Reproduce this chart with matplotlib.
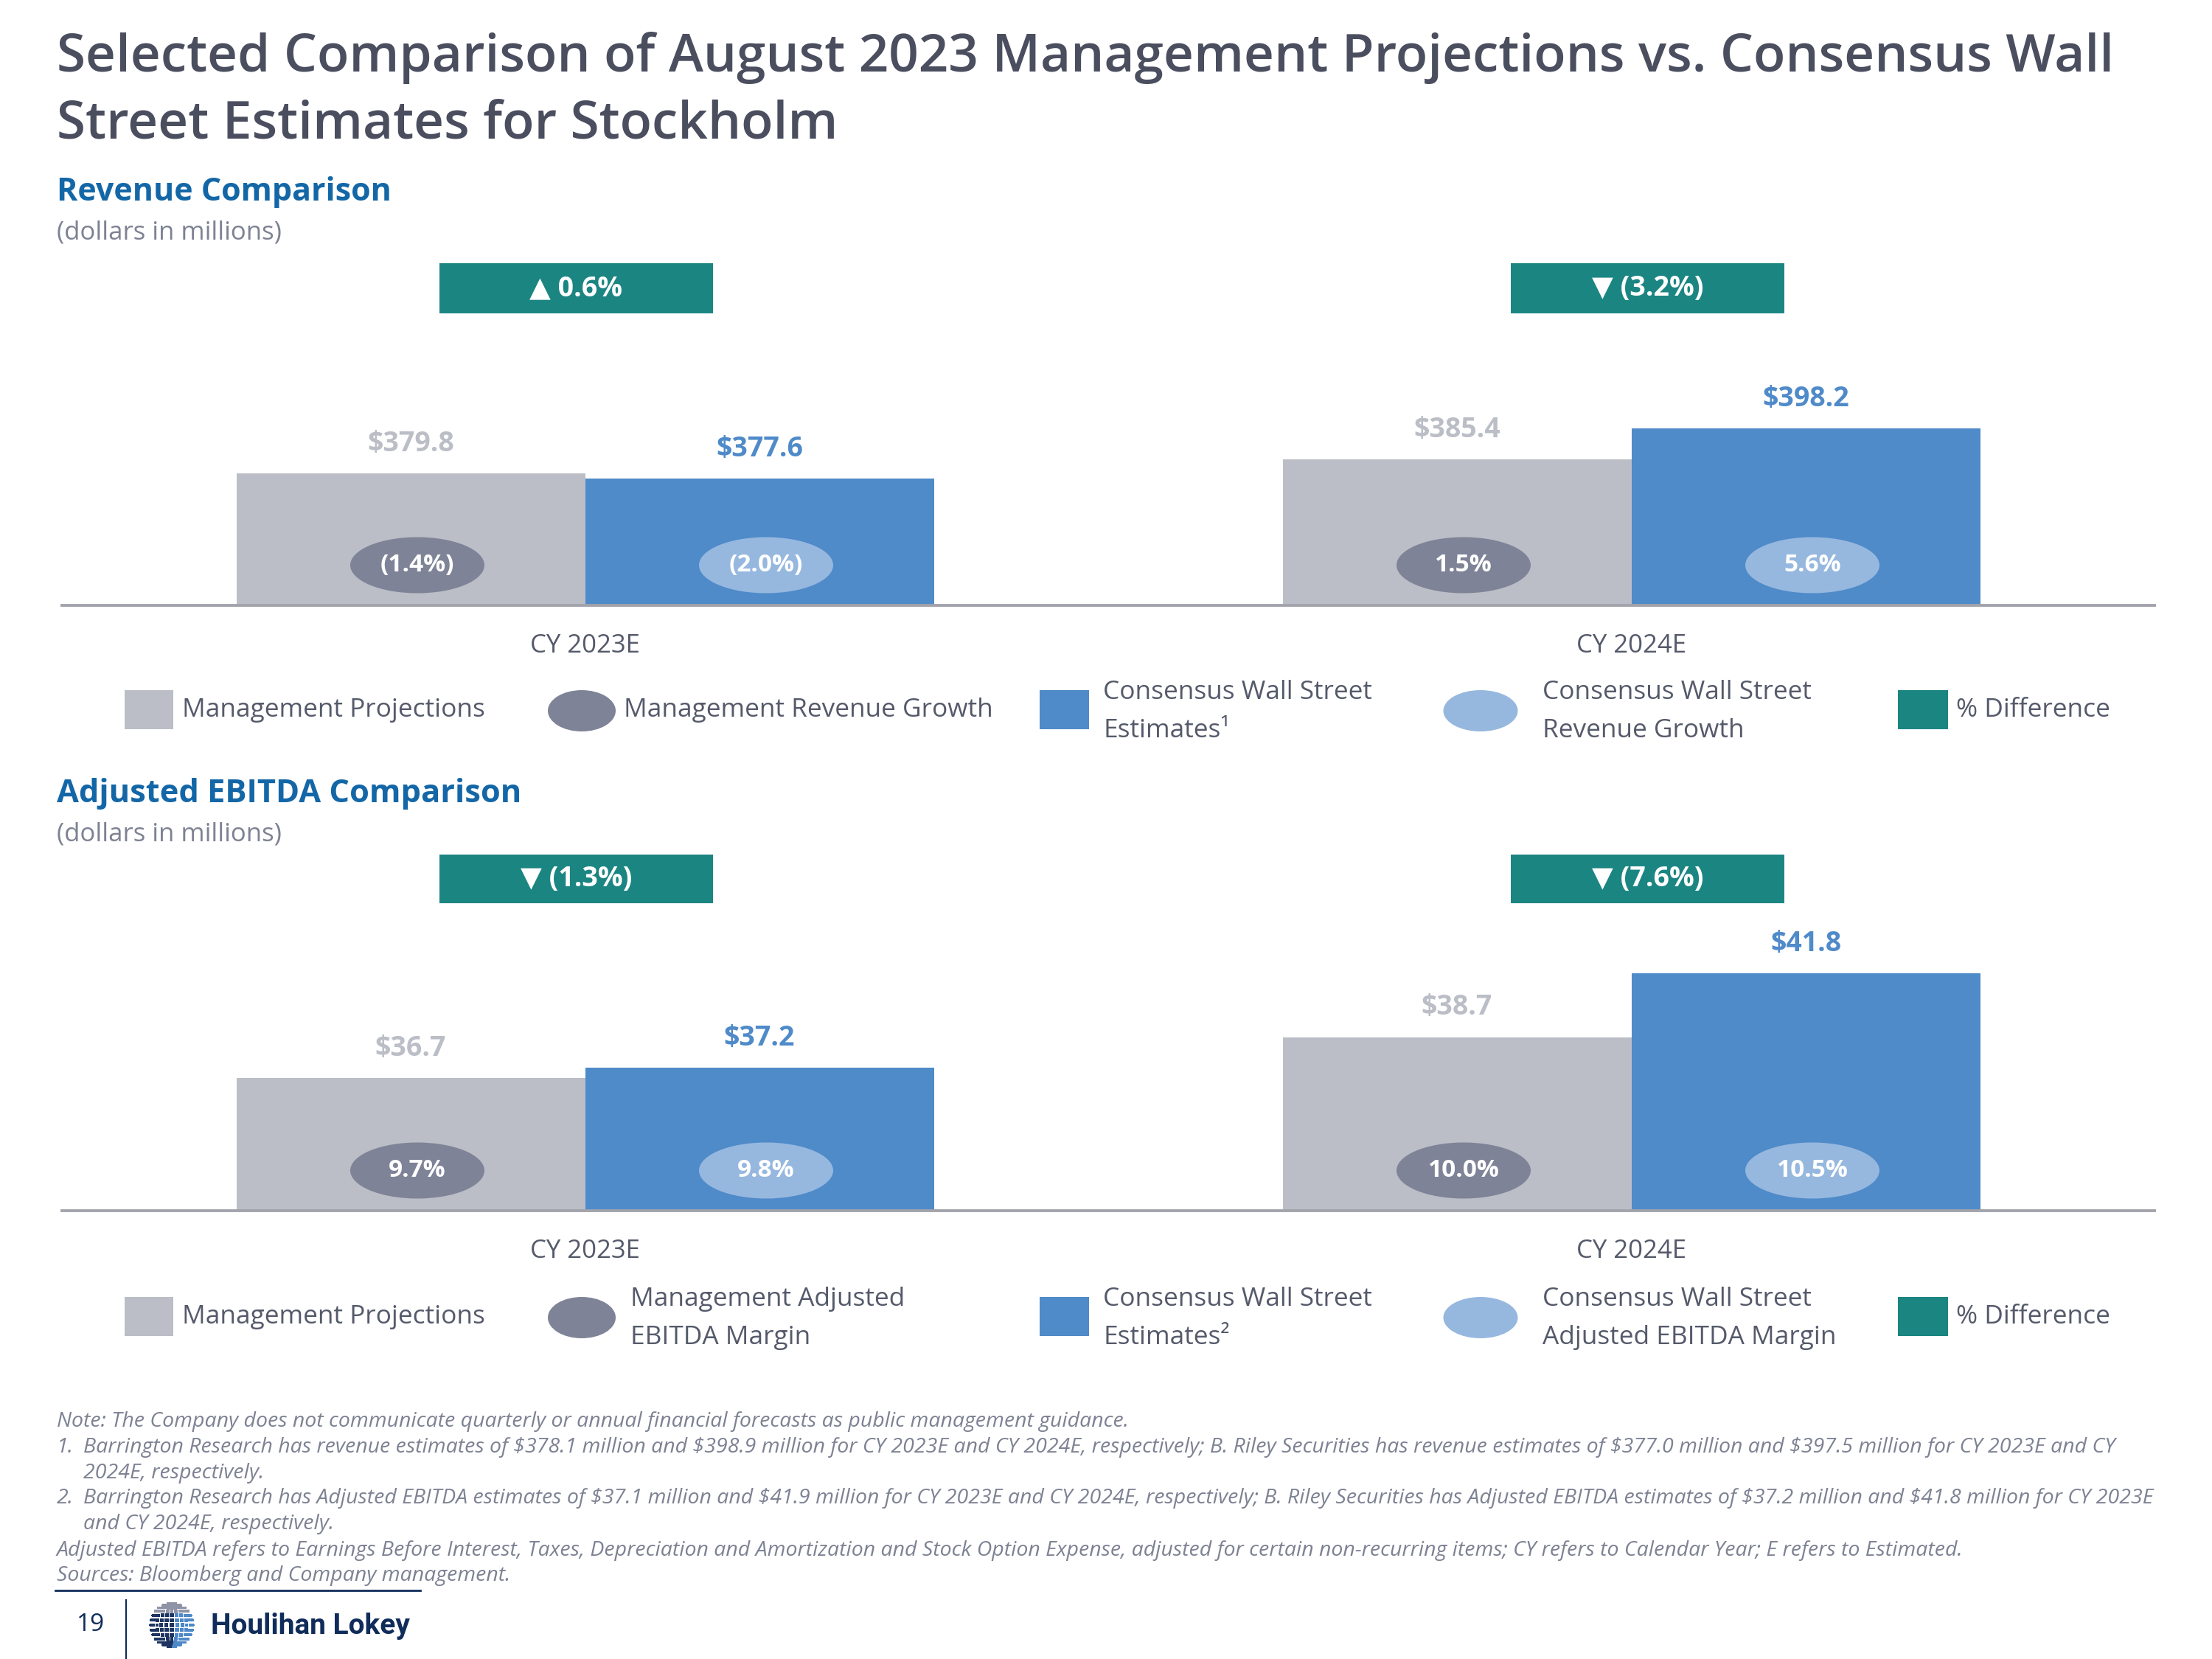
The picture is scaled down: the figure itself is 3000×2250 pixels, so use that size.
import numpy as np
import matplotlib.pyplot as plt
from matplotlib.patches import Rectangle, Ellipse
from matplotlib.transforms import blended_transform_factory

# ---- data ----
years = ["CY 2023E", "CY 2024E"]

rev_mgmt = [379.8, 385.4]
rev_cons = [377.6, 398.2]
rev_mgmt_growth = ["(1.4%)", "1.5%"]
rev_cons_growth = ["(2.0%)", "5.6%"]
rev_diff = ["▲ 0.6%", "▼ (3.2%)"]

ebitda_mgmt = [36.7, 38.7]
ebitda_cons = [37.2, 41.8]
ebitda_mgmt_margin = ["9.7%", "10.0%"]
ebitda_cons_margin = ["9.8%", "10.5%"]
ebitda_diff = ["▼ (1.3%)", "▼ (7.6%)"]

rev_legend = ["Management Projections", "Management Revenue Growth",
              "Consensus Wall Street\nEstimates¹", "Consensus Wall Street\nRevenue Growth",
              "% Difference"]
ebitda_legend = ["Management Projections", "Management Adjusted\nEBITDA Margin",
                 "Consensus Wall Street\nEstimates²", "Consensus Wall Street\nAdjusted EBITDA Margin",
                 "% Difference"]

notes = [
    ("", "Note: The Company does not communicate quarterly or annual financial forecasts as public management guidance."),
    ("1.", "Barrington Research has revenue estimates of \\$378.1 million and \\$398.9 million for CY 2023E and CY 2024E, respectively; B. Riley Securities has revenue estimates of \\$377.0 million and \\$397.5 million for CY 2023E and CY"),
    ("", "2024E, respectively."),
    ("2.", "Barrington Research has Adjusted EBITDA estimates of \\$37.1 million and \\$41.9 million for CY 2023E and CY 2024E, respectively; B. Riley Securities has Adjusted EBITDA estimates of \\$37.2 million and \\$41.8 million for CY 2023E"),
    ("", "and CY 2024E, respectively."),
    ("", "Adjusted EBITDA refers to Earnings Before Interest, Taxes, Depreciation and Amortization and Stock Option Expense, adjusted for certain non-recurring items; CY refers to Calendar Year; E refers to Estimated."),
    ("", "Sources: Bloomberg and Company management."),
]

# ---- colours ----
GRAY = "#bbbec6"
BLUE = "#4f8ac9"
DARK_OVAL = "#7e8397"
LIGHT_OVAL = "#96b8df"
TEAL = "#1b8582"
AXIS = "#a2a3ab"
TITLE = "#4a4e5e"
HEAD = "#1467a7"
SUB = "#7d8293"
TEXT = "#555a6b"
NAVY = "#0f2c5a"

plt.rcParams['font.family'] = ['Open Sans', 'DejaVu Sans']

PW, PH = 3000, 2250
fig = plt.figure(figsize=(15, 11.25), dpi=200)


def fx(x):
    return x / PW


def fy(y):
    return 1 - y / PH


def ftext(x, y, s, **kw):
    kw.setdefault('va', 'center')
    return fig.text(fx(x), fy(y), s, **kw)


def fig_rect(x0, y0, x1, y1, color):
    fig.add_artist(Rectangle((fx(x0), fy(y1)), (x1 - x0) / PW, (y1 - y0) / PH,
                             transform=fig.transFigure, color=color, lw=0))


def fig_oval(cx, cy, w, h, color):
    fig.add_artist(Ellipse((fx(cx), fy(cy)), w / PW, h / PH,
                           transform=fig.transFigure, color=color, lw=0))


AX_L, AX_R = 84, 2922
UNIT = (AX_R - AX_L) / 2  # pixels per category
BOX_DX = [-12, 22]       # % difference boxes sit a little off the group centre
OVAL_DX = 9


def draw_panel(base, top, floor, px_per_unit, mgmt, cons, mgmt_pct, cons_pct, diff, box_y):
    ax = fig.add_axes([fx(AX_L), fy(base), (AX_R - AX_L) / PW, (base - top) / PH])
    ax.set_xlim(-0.5, 1.5)
    ax.set_ylim(floor, floor + (base - top) / px_per_unit)
    ax.patch.set_alpha(0)
    x = np.arange(len(years))
    w = 1 / 3
    ax.bar(x - w / 2, mgmt, w, color=GRAY, zorder=2)
    ax.bar(x + w / 2, cons, w, color=BLUE, zorder=2)
    for s in ['top', 'left', 'right']:
        ax.spines[s].set_visible(False)
    ax.spines['bottom'].set_color(AXIS)
    ax.spines['bottom'].set_linewidth(1.4)
    ax.spines['bottom'].set_zorder(3)
    ax.set_xticks([])
    ax.set_yticks([])

    tr = blended_transform_factory(ax.transData, ax.transAxes)
    hpx = base - top
    for i in range(len(years)):
        ax.annotate(f"\\${mgmt[i]:.1f}", (x[i] - w / 2, mgmt[i]), xytext=(0, 14.5),
                    textcoords='offset points', ha='center', va='center',
                    color=GRAY, fontsize=13.5, fontweight='bold')
        ax.annotate(f"\\${cons[i]:.1f}", (x[i] + w / 2, cons[i]), xytext=(0, 14.5),
                    textcoords='offset points', ha='center', va='center',
                    color=BLUE, fontsize=13.5, fontweight='bold')
        for xc, txt, col in [(x[i] - w / 2, mgmt_pct[i], DARK_OVAL),
                             (x[i] + w / 2, cons_pct[i], LIGHT_OVAL)]:
            xo = xc + OVAL_DX / UNIT
            ax.add_patch(Ellipse((xo, 54.5 / hpx), 182 / UNIT, 76 / hpx,
                                 transform=tr, color=col, lw=0, zorder=4))
            ax.text(xo, 54.5 / hpx, txt, transform=tr, ha='center', va='center',
                    color='white', fontsize=12, fontweight='bold', zorder=5)
        # % difference box
        bw = 371 / UNIT
        bx = x[i] + BOX_DX[i] / UNIT
        ax.add_patch(Rectangle((bx - bw / 2, (base - box_y[1]) / hpx), bw,
                               (box_y[1] - box_y[0]) / hpx, transform=tr,
                               color=TEAL, lw=0, clip_on=False))
        ax.text(bx, (base - (box_y[0] + box_y[1]) / 2) / hpx, diff[i], transform=tr,
                ha='center', va='center', color='white', fontsize=13.5, fontweight='bold')
        ax.text(x[i], -55 / hpx, years[i], transform=tr, ha='center', va='center',
                color=TEXT, fontsize=12.5)
    return ax


def draw_legend(y0, labels, x2):
    items = [
        ('rect', (169, 235), GRAY, 247),
        ('oval', (789, 92), DARK_OVAL, x2),
        ('rect', (1410, 1477), BLUE, 1496),
        ('oval', (2008, 101), LIGHT_OVAL, 2092),
        ('rect', (2574, 2642), TEAL, 2653),
    ]
    for (kind, geo, col, tx), lab in zip(items, labels):
        if kind == 'rect':
            fig_rect(geo[0], y0 - 27, geo[1], y0 + 26, col)
        else:
            fig_oval(geo[0], y0 + 1, geo[1], 56, col)
        lines = lab.split("\n")
        if len(lines) == 1:
            ftext(tx, y0, lines[0], color=TEXT, fontsize=12.7)
        else:
            ftext(tx, y0 - 24, lines[0], color=TEXT, fontsize=12.7)
            ftext(tx, y0 + 28, lines[1], color=TEXT, fontsize=12.7)


# ---- titles ----
ftext(77, 79, "Selected Comparison of August 2023 Management Projections vs. Consensus Wall",
      color=TITLE, fontsize=25.6, fontweight='semibold')
ftext(77, 169, "Street Estimates for Stockholm", color=TITLE, fontsize=25.6, fontweight='semibold')

ftext(77, 260, "Revenue Comparison", color=HEAD, fontsize=15.5, fontweight='bold')
ftext(77, 315, "(dollars in millions)", color=SUB, fontsize=12.5)
ftext(77, 1077, "Adjusted EBITDA Comparison", color=HEAD, fontsize=15.6, fontweight='bold')
ftext(77, 1132, "(dollars in millions)", color=SUB, fontsize=12.5)

# ---- panels ----
draw_panel(821, 340, 325.5, 3.3, rev_mgmt, rev_cons, rev_mgmt_growth, rev_cons_growth,
           rev_diff, (357, 425))
draw_legend(963, rev_legend, 846)

draw_panel(1642, 1140, 30.23, 27.8, ebitda_mgmt, ebitda_cons, ebitda_mgmt_margin,
           ebitda_cons_margin, ebitda_diff, (1159, 1225))
draw_legend(1786, ebitda_legend, 855)

# ---- footnotes ----
note_y = [1928, 1963, 1998, 2032, 2067, 2103, 2137]
for (num, txt), y in zip(notes, note_y):
    if num:
        ftext(77, y, num, color=SUB, fontsize=10.25, style='italic')
    indent = 113 if (num or txt.startswith(("2024E", "and CY"))) else 77
    ftext(indent, y, txt, color=SUB, fontsize=10.25, style='italic')
fig.add_artist(plt.Line2D([fx(75), fx(570)], [fy(2157), fy(2157)], color=NAVY, lw=1.0))

# ---- footer ----
ftext(123, 2203, "19", color=NAVY, fontsize=12, ha='center')
fig.add_artist(plt.Line2D([fx(171), fx(171)], [fy(2170), fy(2250)], color=NAVY, lw=0.8))

# dotted globe of the logo
gax = fig.add_axes([fx(200), fy(2237), 66 / PW, 66 / PH])
gax.set_xlim(-1.1, 1.1)
gax.set_ylim(-1.1, 1.1)
gax.axis('off')
lat = np.radians(np.arange(-78, 80, 13))
lon = np.radians(np.arange(-84, 85, 14))
LA, LO = np.meshgrid(lat, lon)
gx = (np.cos(LA) * np.sin(LO)).ravel()
gy = np.sin(LA).ravel()
depth = (np.cos(LA) * np.cos(LO)).ravel()
gcol = np.where(gy > 0.45, "#8e93a6", np.where(gx < 0.05, "#1d3461", "#4d88c9"))
gax.scatter(gx, gy, s=3.2 * depth + 0.6, c=gcol, marker='s', lw=0)

ftext(286, 2206, "Houlihan Lokey", color=NAVY, fontsize=14, fontweight='bold',
      family=['Roboto', 'DejaVu Sans'])

fig.savefig("out.png", dpi=200)
